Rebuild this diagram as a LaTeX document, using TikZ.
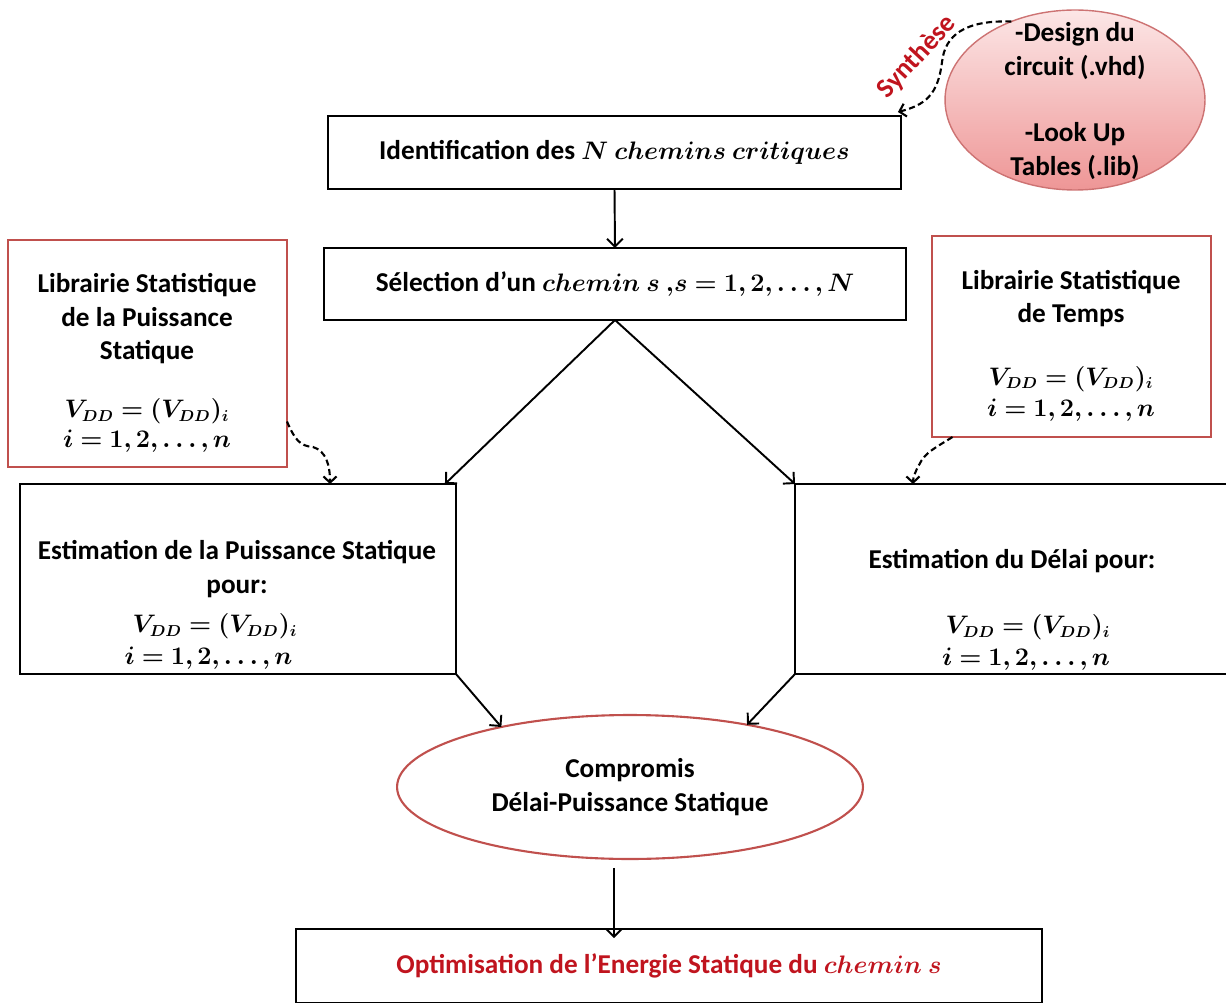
\documentclass[tikz,border=0pt]{standalone}
\usepackage{amsmath,bm}
\usepackage[no-math]{fontspec}
\setmainfont{Carlito}
\usetikzlibrary{arrows.meta,shapes.geometric}
\definecolor{boxred}{RGB}{192,80,77}
\definecolor{txtred}{RGB}{192,20,30}
\definecolor{pinktop}{RGB}{252,230,230}
\definecolor{pinkbot}{RGB}{238,150,150}
\definecolor{pinkedge}{RGB}{205,115,115}
\newcommand{\mline}[1]{{\fontsize{13.5}{17}\selectfont$\bm{#1}$}}
\begin{document}
\begin{tikzpicture}[x=0.02cm,y=-0.02cm,
  every node/.style={font=\fontsize{15.5}{19}\selectfont\bfseries, align=center, inner sep=0pt, outer sep=0pt},
  blackbox/.style={draw=black, line width=1.4pt, rectangle},
  redbox/.style={draw=boxred, line width=1.2pt, rectangle},
  arr/.style={draw=black, line width=1.1pt, -{Straight Barb[length=4.5pt,width=9pt]}},
  dsh/.style={draw=black, line width=1.2pt, dash pattern=on 3.5pt off 2pt, -{Straight Barb[length=3.5pt,width=7.5pt]}},
]
\useasboundingbox (0,0) rectangle (1226,1003);
\clip (0,0) rectangle (1226,1003);

% main boxes
\node[blackbox, minimum width=11.46cm, minimum height=1.46cm] (id) at (614.5,152.5)
  {Identification des $\bm{N\ chemins\ critiques}$};
\node[blackbox, minimum width=11.64cm, minimum height=1.44cm] (sel) at (615,284)
  {Sélection d’un $\bm{chemin\ s\ {,}s=1,2,\ldots,N}$};

% library boxes
\node[redbox, minimum width=5.58cm, minimum height=4.54cm] (libL) at (147.5,353.5) {};
\node (libLt) at (147,363) {Librairie Statistique\\ de la Puissance\\ Statique\\[14pt]
  \mline{V_{DD}=(V_{DD})_i}\\[-2pt] \mline{i=1,2,\ldots,n}};
\node[redbox, minimum width=5.58cm, minimum height=4.02cm] (libR) at (1071.5,336.5) {};
\node (libRt) at (1071,346) {Librairie Statistique\\ de Temps\\[16.5pt]
  \mline{V_{DD}=(V_{DD})_i}\\[-1pt] \mline{i=1,2,\ldots,n}};

% estimation boxes
\node[blackbox, minimum width=8.72cm, minimum height=3.8cm] (estL) at (238,579) {};
\node (estLt) at (237,605) {Estimation de la Puissance Statique\\ pour:\\[3.5pt]
  \hspace*{-0.88cm}\mline{V_{DD}=(V_{DD})_i}\\[-1pt] \hspace*{-1.14cm}\mline{i=1,2,\ldots,n}};
\node[blackbox, minimum width=8.72cm, minimum height=3.8cm] (estR) at (1013,579) {};
\node (estRt) at (1012,610) {Estimation du Délai pour:\\[18pt]
  \hspace*{0.64cm}\mline{V_{DD}=(V_{DD})_i}\\[-1pt] \hspace*{0.56cm}\mline{i=1,2,\ldots,n}};

% compromise ellipse
\node[ellipse, draw=boxred, line width=1.2pt, minimum width=9.32cm, minimum height=2.88cm] (comp) at (630,787)
  {Compromis\\ Délai-Puissance Statique};

% final box
\node[blackbox, minimum width=14.92cm, minimum height=1.48cm] (opt) at (669,966)
  {\textcolor{txtred}{Optimisation de l’Energie Statique du $\bm{chemin\ s}$}};

% design ellipse
\node[ellipse, draw=pinkedge, line width=0.8pt, top color=pinktop, bottom color=pinkbot,
      minimum width=5.2cm, minimum height=3.6cm] (ell) at (1075,100) {};
\node (ellt) at (1075,101) {-Design du\\ circuit (.vhd)\\[19pt] -Look Up\\ Tables (.lib)};

\node[text=txtred, rotate=47] (syn) at (917,57) {Synthèse};

% connectors
\draw[arr] (id.south) -- (sel.north);
\draw[arr] (sel.south) -- ([shift={(-11,0)}]estL.north east);
\draw[arr] (sel.south) -- (estR.north west);
\draw[arr] (estL.south east) -- (comp.155);
\draw[arr] (estR.south west) -- (comp.28);
\draw[arr] ([shift={(-16,9)}]comp.south) -- ([shift={(-16,9)}]comp.south |- opt.north);

\draw[dsh] (ell.129) .. controls (965,20) and (945,35) .. (942,62)
  .. controls (938,95) and (925,105) .. ([shift={(-3,-4)}]id.north east);
\draw[dsh] ([shift={(0,68)}]libL.east) .. controls (295,440) and (300,446) .. (313,447)
  .. controls (326,451) and (330,465) .. ([shift={(92,0)}]estL.north);
\draw[dsh] ([shift={(-119,0)}]libR.south) .. controls (937,447) and (925,452) .. (919,465)
  .. controls (915,472) and (913,478) .. ([shift={(118,0)}]estR.north west);
\end{tikzpicture}
\end{document}
